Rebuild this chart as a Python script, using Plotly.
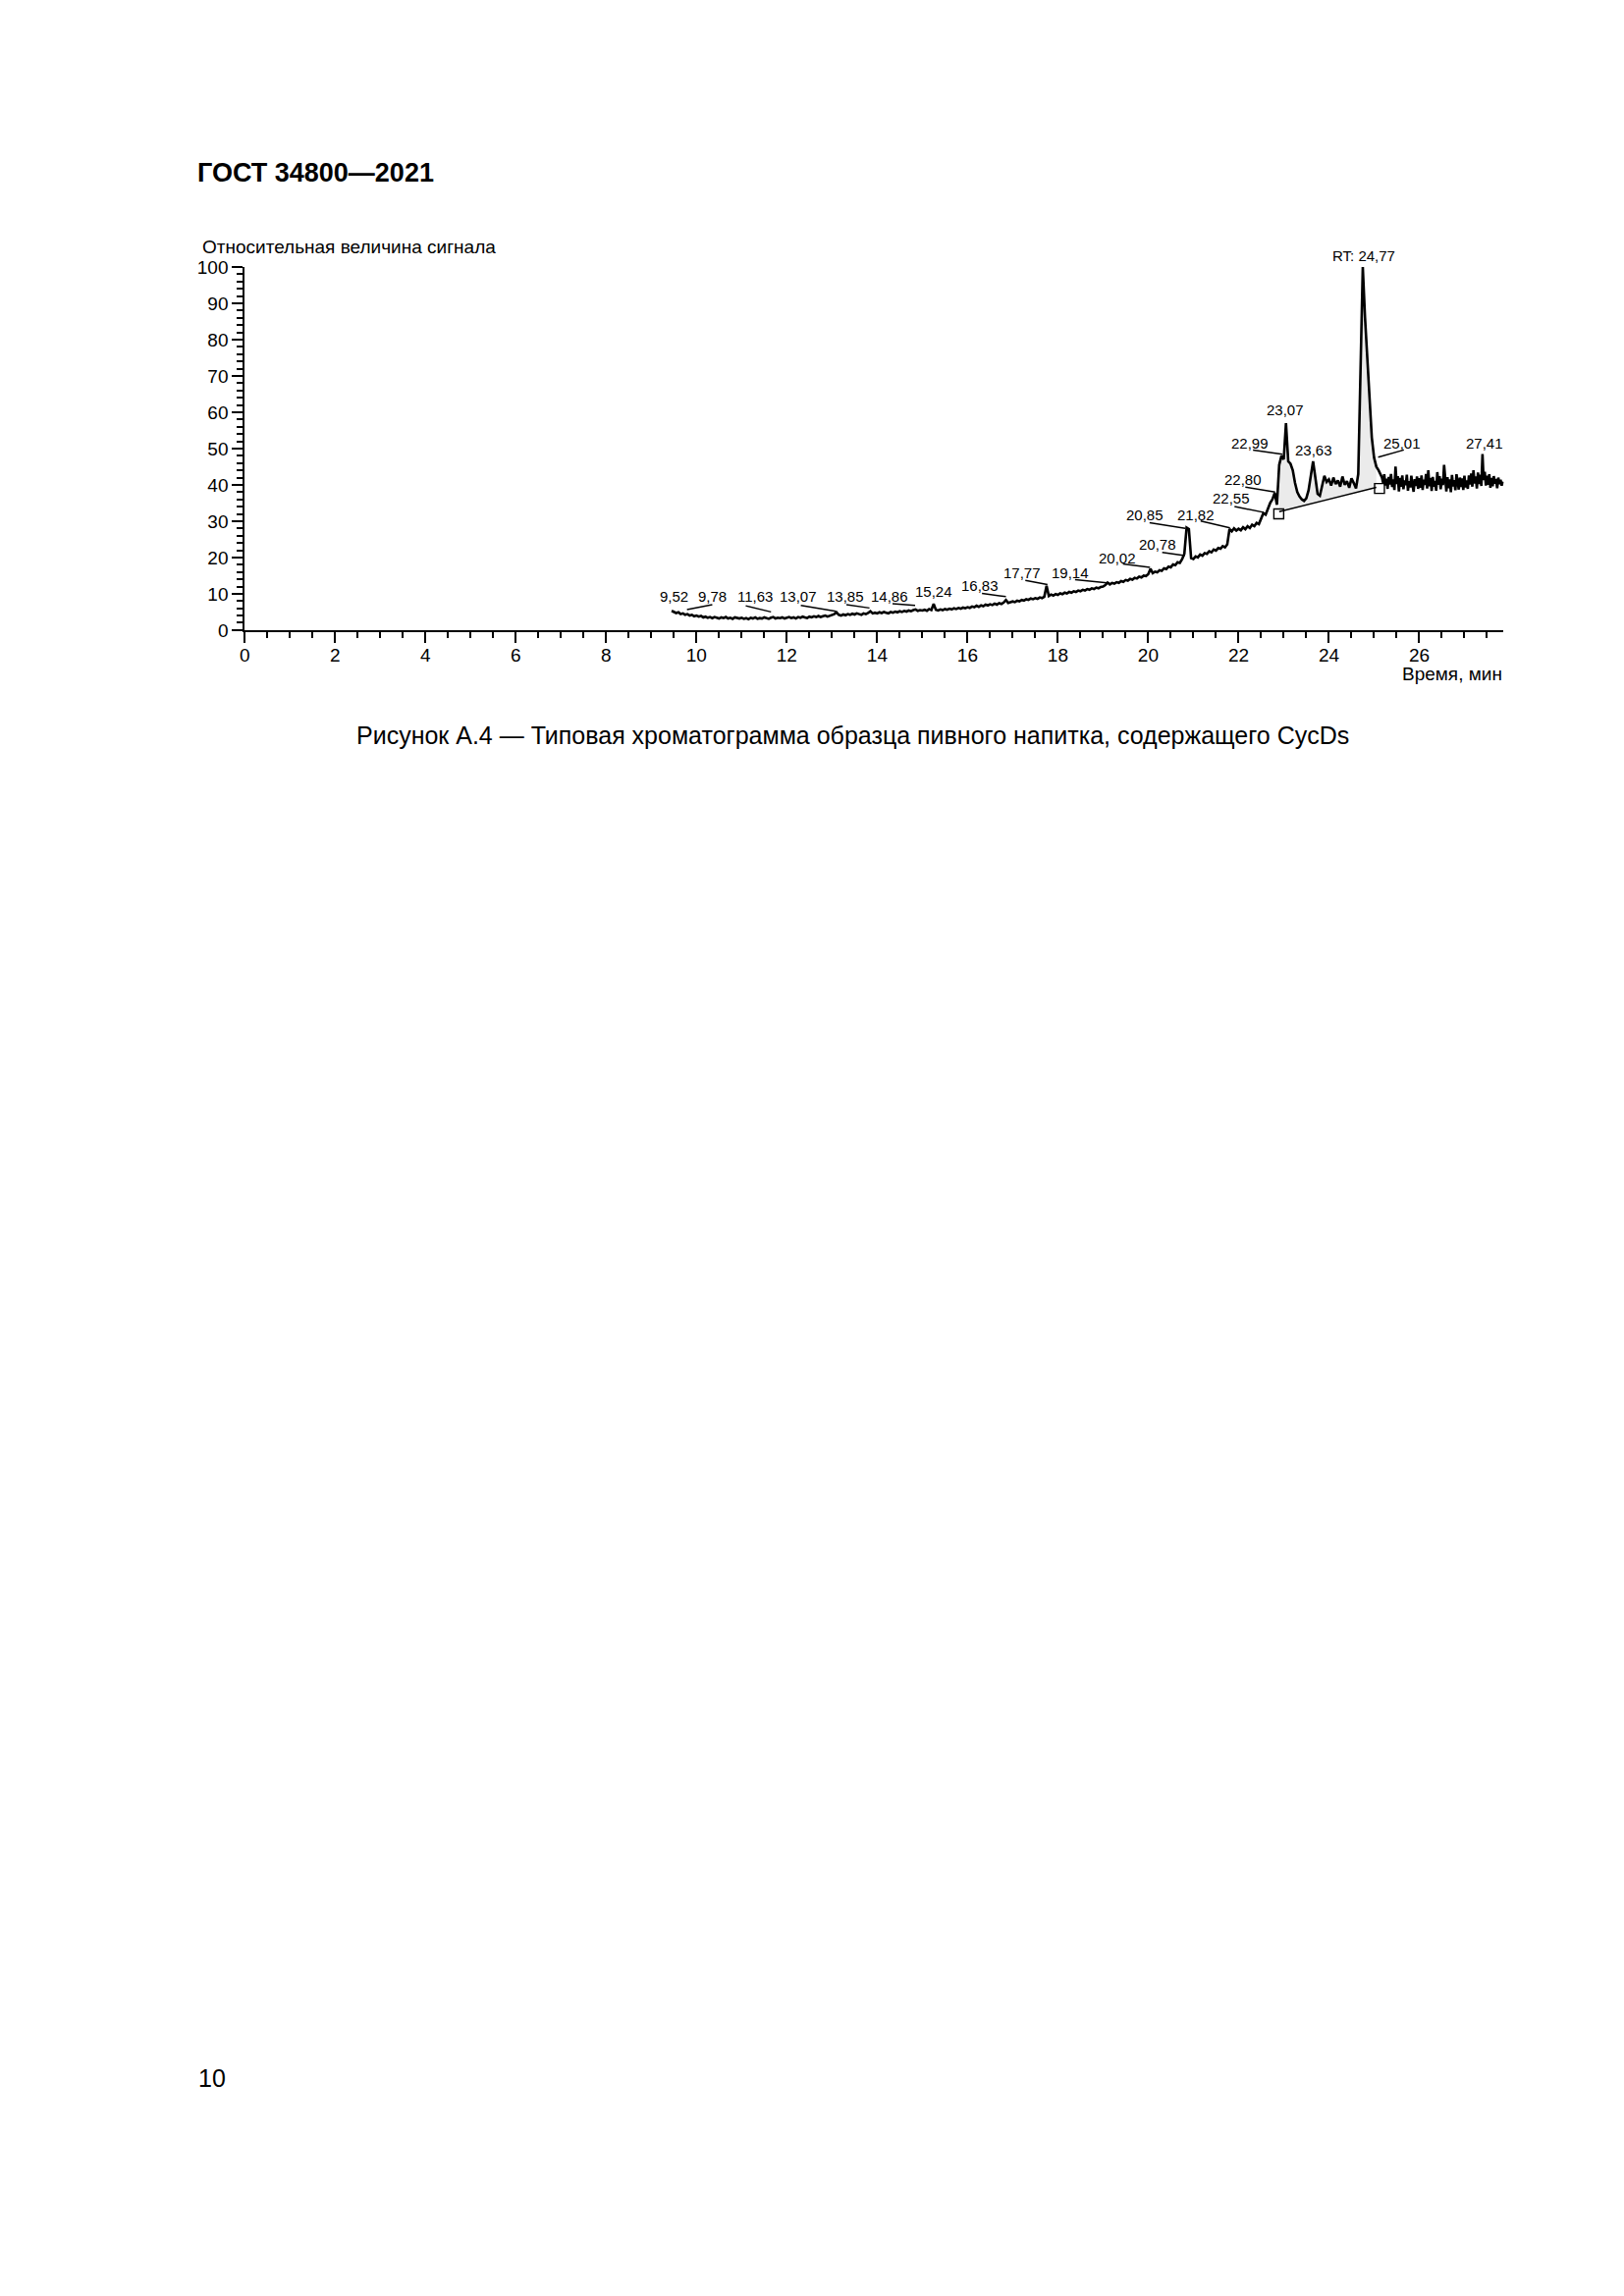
import plotly.graph_objects as go

# ---------------- data ----------------
# part A: 9.45 ... 25.15 min, one reading every 0.05 min
A_START, A_STEP = 9.45, 0.05
SIGNAL_A = [
    # 9.45 - 9.95
    5.3, 5.0, 4.7, 4.9, 4.4, 4.6, 4.2, 4.4, 4.0, 4.2, 3.8,
    # 10.00 - 10.95
    4.0, 3.7, 3.9, 3.5, 3.7, 3.4, 3.6, 3.3, 3.6, 3.4, 3.2, 3.5, 3.3, 3.6, 3.2, 3.4, 3.1, 3.5, 3.3, 3.2,
    # 11.00 - 11.95
    3.4, 3.1, 3.3, 3.0, 3.4, 3.2, 3.5, 3.1, 3.3, 3.2, 3.5, 3.3, 3.1, 3.4, 3.6, 3.2, 3.4, 3.3, 3.5, 3.2,
    # 12.00 - 12.95
    3.4, 3.6, 3.3, 3.5, 3.2, 3.6, 3.4, 3.7, 3.5, 3.3, 3.7, 3.5, 3.8, 3.6, 3.9, 3.6, 3.8, 4.0, 3.7, 3.9,
    # 13.00 - 13.95
    4.1, 4.4, 4.9, 4.2, 4.0, 4.3, 4.1, 4.4, 4.2, 4.5, 4.3, 4.6, 4.4, 4.2, 4.6, 4.4, 4.7, 5.2, 4.6, 4.8,
    # 14.00 - 14.95
    4.6, 4.9, 4.7, 5.0, 4.8, 4.6, 5.0, 4.8, 5.1, 4.9, 5.2, 5.0, 5.3, 5.1, 5.4, 5.2, 5.5, 5.7, 5.3, 5.5,
    # 15.00 - 15.95
    5.4, 5.6, 5.3, 5.8, 5.5, 7.2, 5.6, 5.4, 5.7, 5.5, 5.8, 5.6, 5.9, 5.7, 6.0, 5.8, 6.1, 5.9, 6.2, 6.0,
    # 16.00 - 16.95
    6.3, 6.1, 6.5, 6.3, 6.7, 6.4, 6.8, 6.6, 7.0, 6.8, 7.1, 6.9, 7.3, 7.0, 7.4, 7.2, 7.6, 8.3, 7.5, 7.7,
    # 17.00 - 17.95
    7.9, 7.7, 8.1, 7.9, 8.3, 8.1, 8.5, 8.3, 8.7, 8.5, 8.8, 8.6, 9.0, 8.8, 9.2, 12.2, 9.4, 9.8, 9.5, 9.9,
    # 18.00 - 18.95
    9.7, 10.1, 9.9, 10.3, 10.1, 10.5, 10.3, 10.7, 10.5, 10.9, 10.7, 11.1, 10.9, 11.3, 11.1, 11.5, 11.3, 11.7, 11.5, 11.9,
    # 19.00 - 19.95
    12.0, 12.4, 13.1, 12.6, 13.0, 12.8, 13.2, 13.0, 13.5, 13.3, 13.8, 13.6, 14.1, 13.9, 14.4, 14.2, 14.7, 14.5, 15.0, 14.9,
    # 20.00 - 20.95
    15.4, 16.9, 15.7, 16.1, 15.9, 16.5, 16.3, 17.0, 16.8, 17.5, 17.3, 18.1, 17.9, 18.7, 18.5, 19.5, 21.0, 28.2, 27.8, 19.8,
    # 21.00 - 21.95
    19.6, 20.3, 20.0, 20.8, 20.5, 21.2, 21.0, 21.7, 21.4, 22.2, 21.9, 22.6, 22.4, 23.1, 22.8, 23.6, 27.8, 27.2, 28.0, 27.4,
    # 22.00 - 22.95
    27.9, 27.5, 28.3, 27.8, 28.6, 28.1, 29.0, 28.6, 29.5, 29.2, 30.6, 32.2, 31.8, 33.5, 35.0, 36.0, 37.8, 34.5, 45.5, 48.0,
    # 23.00 - 23.95
    47.0, 57.0, 46.5, 45.8, 44.0, 40.5, 38.0, 36.8, 36.0, 35.6, 36.3, 38.5, 43.0, 46.5, 42.0, 37.5, 37.0, 39.5, 42.5, 40.8,
    # 24.00 - 24.95
    41.5, 39.8, 42.0, 40.2, 41.2, 39.5, 42.3, 40.0, 41.0, 39.2, 41.8, 40.5, 39.0, 43.0, 74.0, 100.0, 86.0, 75.0, 62.0, 53.0,
    # 25.00 - 25.15
    47.5, 45.0, 44.0, 42.5,
]

# part B: 25.175 ... 27.85 min, one reading every 0.025 min (dense noisy tail)
B_START, B_STEP = 25.175, 0.025
SIGNAL_B = [
    42.0, 40.6, 42.9, 39.8, 41.7, 38.9, 42.2, 40.1, 43.0, 39.4,
    41.5, 38.6, 45.0, 40.2, 42.4, 38.2, 41.9, 39.5, 42.6, 38.8,
    41.2, 39.9, 42.8, 38.4, 41.0, 39.3, 42.5, 40.0, 38.1, 41.6,
    39.7, 42.3, 38.9, 41.8, 39.2, 42.6, 38.6, 41.4, 40.0, 43.0,
    39.0, 44.0, 39.6, 41.9, 38.3, 42.2, 39.5, 41.1, 38.4, 43.5,
    40.0, 42.4, 38.8, 41.7, 39.9, 45.5, 40.3, 38.2, 42.1, 39.1,
    41.5, 38.0, 42.7, 39.6, 41.3, 38.5, 42.9, 40.2, 38.7, 42.0,
    39.4, 41.8, 38.6, 42.5, 39.3, 41.2, 38.9, 42.6, 40.1, 43.1,
    39.5, 44.0, 40.4, 42.3, 39.0, 43.4, 40.2, 42.8, 39.7, 48.5,
    41.3, 43.6, 39.8, 42.5, 40.0, 42.9, 39.2, 41.9, 39.6, 42.4,
    40.3, 41.6, 39.1, 42.0, 40.2, 41.4, 39.8, 40.9,
]

# peak labels: text, text position (min, signal); leader line from label to peak (None = no line)
PEAK_LABELS = ["9,52", "9,78", "11,63", "13,07", "13,85", "14,86", "15,24", "16,83", "17,77",
               "19,14", "20,02", "20,78", "20,85", "21,82", "22,55", "22,80", "22,99", "23,07",
               "23,63", "RT: 24,77", "25,01", "27,41"]
LABEL_T = [9.50, 10.36, 11.29, 12.26, 13.29, 14.28, 15.26, 16.27, 17.21,
           18.27, 19.32, 20.20, 19.93, 21.05, 21.84, 22.10, 22.25, 23.04,
           23.66, 24.77, 25.62, 27.45]
LABEL_V = [9.4, 9.4, 9.4, 9.4, 9.4, 9.4, 10.6, 12.3, 15.7,
           15.7, 19.9, 23.5, 31.7, 31.6, 36.3, 41.4, 51.5, 60.6,
           49.7, 103.2, 51.5, 51.5]
LEAD_T0 = [None, 10.35, 11.09, 12.31, 13.32, 14.34, None, 16.32, 17.28,
           18.38, 19.44, 20.31, 20.03, 21.16, 21.91, 22.15, 22.32, None,
           None, None, 25.66, None]
LEAD_V0 = [None, 6.97, 6.70, 6.81, 6.97, 7.24, None, 10.11, 13.67,
           13.86, 18.2, 21.4, 29.6, 30.03, 34.05, 39.4, 49.6, None,
           None, None, 49.6, None]
LEAD_T1 = [None, 9.79, 11.65, 13.09, 13.83, 14.84, None, 16.85, 17.77,
           19.14, 20.04, 20.81, 20.82, 21.81, 22.55, 22.81, 22.97, None,
           None, None, 25.09, None]
LEAD_V1 = [None, 5.63, 5.01, 5.20, 6.09, 6.81, None, 9.22, 12.52,
           12.98, 17.3, 20.5, 28.0, 28.15, 32.44, 38.0, 48.4, None,
           None, None, 47.6, None]

# integration baseline and its start / end markers
BASE_T = [22.90, 25.05]
BASE_V = [32.6, 39.3]
MARK_T = [22.89, 25.12]
MARK_V = [32.0, 39.0]

X_MAX = 27.87
Y_MAX = 100

# ---------------- layout helpers (page pixels -> paper) ----------------
BODY = 8                      # default <body> margin of the written page
FIG_W, FIG_H = 1620, 2280     # a bit smaller than the page so nothing overflows


def px(x):
    return (x - BODY) / FIG_W


def py(y):
    return 1 - (y - BODY) / FIG_H


FONT = "Liberation Sans, Arial, sans-serif"

times = [A_START + i * A_STEP for i in range(len(SIGNAL_A))] + \
        [B_START + i * B_STEP for i in range(len(SIGNAL_B))]
signal = SIGNAL_A + SIGNAL_B

fig = go.Figure()

# shaded integrated area between trace and baseline
sel = [(t, v) for t, v in zip(times, signal) if BASE_T[0] - 1e-9 <= t <= BASE_T[1] + 1e-9]
fig.add_trace(go.Scatter(
    x=[t for t, _ in sel] + [BASE_T[1], BASE_T[0]],
    y=[v for _, v in sel] + [BASE_V[1], BASE_V[0]],
    fill="toself", fillcolor="rgba(0,0,0,0.08)", line=dict(width=0),
    mode="lines", hoverinfo="skip", showlegend=False))

# chromatogram
fig.add_trace(go.Scatter(x=times, y=signal, mode="lines",
                         line=dict(color="black", width=2.6),
                         cliponaxis=False, showlegend=False))

# baseline
fig.add_trace(go.Scatter(x=BASE_T, y=BASE_V, mode="lines",
                         line=dict(color="black", width=1.4), showlegend=False))
fig.add_trace(go.Scatter(x=MARK_T, y=MARK_V, mode="markers",
                         marker=dict(symbol="square-open", size=10, color="black",
                                     line=dict(width=1.4)),
                         showlegend=False))

annotations = []
shapes = []
for txt, lt, lv, t0, v0, t1, v1 in zip(PEAK_LABELS, LABEL_T, LABEL_V,
                                        LEAD_T0, LEAD_V0, LEAD_T1, LEAD_V1):
    annotations.append(dict(x=lt, y=lv / Y_MAX, xref="x", yref="y domain", text=txt,
                            showarrow=False, xanchor="center", yanchor="middle",
                            font=dict(family=FONT, size=15, color="black")))
    if t0 is not None:
        shapes.append(dict(type="line", xref="x", yref="y", x0=t0, y0=v0, x1=t1, y1=v1,
                           line=dict(color="black", width=1.5)))

# texts on the page
annotations += [
    dict(x=px(195), y=py(167), xref="paper", yref="paper", text="<b>ГОСТ 34800—2021</b>",
         showarrow=False, xanchor="left", yanchor="middle",
         font=dict(family=FONT, size=27, color="black")),
    dict(x=px(200), y=py(244), xref="paper", yref="paper", text="Относительная величина сигнала",
         showarrow=False, xanchor="left", yanchor="middle",
         font=dict(family=FONT, size=19, color="black")),
    dict(x=px(1532), y=py(683), xref="paper", yref="paper", text="Время, мин",
         showarrow=False, xanchor="right", yanchor="middle",
         font=dict(family=FONT, size=19, color="black")),
    dict(x=px(866), y=py(746), xref="paper", yref="paper",
         text="Рисунок А.4 — Типовая хроматограмма образца пивного напитка, содержащего CycDs",
         showarrow=False, xanchor="center", yanchor="middle",
         font=dict(family=FONT, size=25, color="black")),
    dict(x=px(196), y=py(2127), xref="paper", yref="paper", text="10",
         showarrow=False, xanchor="left", yanchor="middle",
         font=dict(family=FONT, size=25, color="black")),
]

axis_common = dict(showline=True, linecolor="black", linewidth=2, mirror=False,
                   ticks="outside", tickcolor="black", tickwidth=1.5, ticklen=11,
                   showgrid=False, zeroline=False,
                   tickfont=dict(family=FONT, size=19, color="black"))

fig.update_layout(
    width=FIG_W, height=FIG_H,
    margin=dict(l=0, r=0, t=0, b=0, pad=0),
    paper_bgcolor="white", plot_bgcolor="white",
    showlegend=False,
    xaxis=dict(domain=[px(245), px(1531.2)], range=[0, X_MAX], tick0=0, dtick=2,
               ticklabelstandoff=-4,
               minor=dict(tick0=0, dtick=0.5, ticks="outside", ticklen=6, tickwidth=1.5,
                          tickcolor="black", showgrid=False),
               **axis_common),
    yaxis=dict(domain=[py(637.7), py(264.3)], range=[0, Y_MAX], tick0=0, dtick=10,
               minor=dict(tick0=0, dtick=2, ticks="outside", ticklen=6, tickwidth=1.5,
                          tickcolor="black", showgrid=False),
               **axis_common),
    annotations=annotations,
    shapes=shapes,
)

fig.write_html("out.html")
